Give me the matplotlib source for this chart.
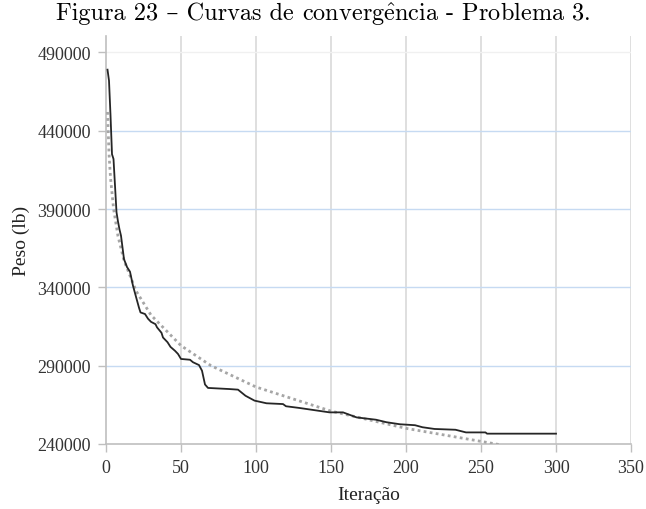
import matplotlib
matplotlib.use('Agg')
import matplotlib.pyplot as plt

plt.rcParams['mathtext.fontset'] = 'cm'

# convergence curve (best weight per iteration)
iteracao = [1, 2, 3, 4, 5, 6, 7, 8, 9, 10, 12, 14, 16, 18, 20, 22, 23, 26, 28, 30,
            33, 34, 37, 38, 41, 43, 46, 48, 50, 56, 58, 62, 64, 66, 68, 82, 88, 93,
            99, 107, 118, 120, 129, 149, 158, 167, 180, 187, 196, 206, 211, 219,
            233, 240, 253, 254, 300]
peso = [479000, 472000, 450000, 425000, 422000, 405000, 388000, 382000, 377000,
        373000, 358000, 353000, 350000, 341000, 334000, 327000, 324000, 323000,
        320000, 318000, 316500, 314500, 311000, 308000, 305000, 302000, 299500,
        297500, 294300, 293800, 292200, 290400, 286800, 278000, 275800, 275100,
        274700, 270800, 267700, 266000, 265500, 264100, 263000, 260200, 260200,
        257000, 255500, 253900, 252600, 252000, 250700, 249600, 249100, 247400,
        247400, 246600, 246600]

# dotted trend line
tend_x = [1, 2, 3, 5, 8, 12, 20, 30, 50, 70, 100, 150, 200, 263]
tend_y = [452000, 425600, 410100, 390600, 372700, 357200, 337800, 322300,
          302800, 290000, 276400, 261000, 250000, 239500]

xticks = [0, 50, 100, 150, 200, 250, 300, 350]
yticks = [240000, 290000, 340000, 390000, 440000, 490000]

fig = plt.figure(figsize=(6.46, 5.10), dpi=100)
fig.patch.set_facecolor('white')
ax = fig.add_axes([106 / 646, 65 / 510, 525 / 646, 408 / 510])

ax.plot(tend_x, tend_y, color='#a6a6a6', lw=2.0, linestyle=(0, (1, 1.2)), zorder=3)
ax.plot(iteracao, peso, color='#262626', lw=1.3, zorder=4)

ax.set_xlim(0, 350)
ax.set_ylim(240000, 500500)
ax.set_xticks(xticks)
ax.set_yticks(yticks)
ax.set_xticklabels([str(v) for v in xticks])
ax.set_yticklabels([str(v) for v in yticks])

# gridlines: gray verticals, light blue horizontals (top one almost white)
for xv in xticks[1:]:
    ax.axvline(xv, color='#d9d9d9', lw=1.2, zorder=1)
for yv in yticks[1:-1]:
    ax.axhline(yv, color='#c6daf2', lw=1.0, zorder=1)
ax.axhline(yticks[-1], color='#f0f0f0', lw=1.0, zorder=1)

for s in ['top', 'right']:
    ax.spines[s].set_visible(False)
for s in ['left', 'bottom']:
    ax.spines[s].set_color('#bfbfbf')
    ax.spines[s].set_linewidth(1.2)

ax.tick_params(axis='both', direction='out', length=6, width=1, color='#bfbfbf',
               labelcolor='#333333', labelsize=13)
ax.tick_params(axis='y', pad=5)
ax.tick_params(axis='x', pad=5)
for lab in ax.get_xticklabels() + ax.get_yticklabels():
    lab.set_family('Liberation Serif')

ax.set_xlabel('Iteração', family='Liberation Serif', fontsize=14, color='#222222',
              labelpad=7)
ax.set_ylabel('Peso (lb)', family='Liberation Serif', fontsize=14, color='#222222',
              labelpad=5)

# title in two pieces: cmr10 (dash from DejaVu Serif), mathtext supplies the "ê"
ty = 1 - 20 / 510
t1 = fig.text(0, ty, 'Figura 23 – Curvas de ', ha='left', va='baseline',
              fontsize=17.5, family=['cmr10', 'DejaVu Serif'])
t2 = fig.text(0, ty, r'converg$\hat{\rm e}$ncia - Problema 3.', ha='left',
              va='baseline', fontsize=17.5, family='cmr10')
r = fig.canvas.get_renderer()
w1 = t1.get_window_extent(r).width / fig.bbox.width
w2 = t2.get_window_extent(r).width / fig.bbox.width
x0 = 0.5 - (w1 + w2) / 2
t1.set_x(x0)
t2.set_x(x0 + w1)

fig.savefig('out.png', dpi=100, facecolor='white')
